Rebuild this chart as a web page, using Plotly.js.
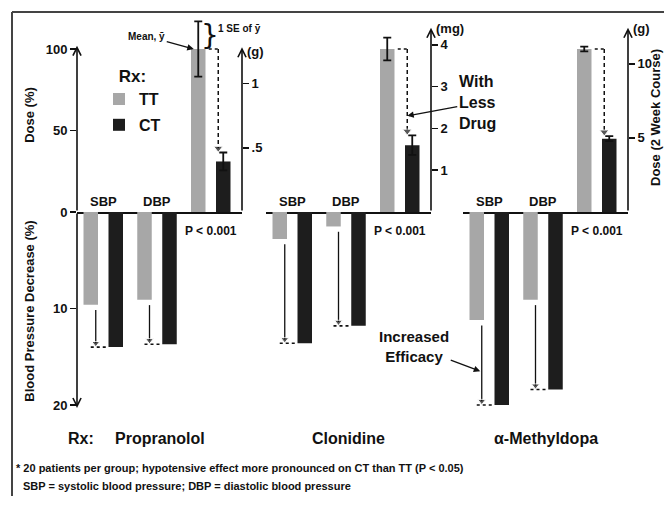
<!DOCTYPE html>
<html>
<head>
<meta charset="utf-8">
<script src="https://cdn.plot.ly/plotly-3.0.1.min.js"></script>
<style>html,body{margin:0;padding:0;background:#fff;}#chart{width:664px;height:506px;}</style>
</head>
<body>
<div id="chart"></div>
<script>
// ---------------- data ----------------
const drugs = ["Propranolol", "Clonidine", "α-Methyldopa"];
const measures = ["SBP", "DBP"];
const series = ["TT", "CT"];
// dose, percent of TT dose
const doseTT = [100, 100, 100];
const doseCT = [31, 41, 45];
const doseTTse = [17, 7, 1.5];
const doseCTse = [5.5, 6, 1.5];
// blood pressure decrease (%)
const sbpTT = [9.6, 2.8, 11.2];
const sbpCT = [14.0, 13.6, 20.0];
const dbpTT = [9.1, 1.5, 9.1];
const dbpCT = [13.7, 11.8, 18.4];
// TT dose in native units (2 week course)
const ttDoseAmount = [1.27, 3.9, 11.0];
const doseUnits = ["(g)", "(mg)", "(g)"];
const unitTicks = [[0.5, 1], [1, 2, 3, 4], [5, 10]];
const unitTickText = [[".5", "1"], ["1", "2", "3", "4"], ["5", "10"]];
const doseTicks = [0, 50, 100];
const bpTicks = [10, 20];
const pText = "P < 0.001";

// ---------------- layout constants ----------------
const L = 77, R = 628, T = 18, B = 410;
const zeroPx = 212, pxPerDose = 1.63, pxPerBP = 9.65;
const doseMax = (zeroPx - T) / pxPerDose;
const bpMax = (B - zeroPx) / pxPerBP;
const zeroFrac = (B - zeroPx) / (B - T);
const panelStart = [77, 266, 463], panelW = 165, xMax = 6.6;
const axisTop = [101, 113, 113];
const barW = 0.58;
const ttColor = "#a7a7a7", ctColor = "#1d1d1d", ink = "#111";
const FONT = '"Liberation Sans", Arial, Helvetica, sans-serif';
const px2x = px => (px - L) / (R - L);
const px2y = py => (B - py) / (B - T);
const slot = (g, s) => 0.55 + g * 2.15 + s;
const yName = n => n === 1 ? "y" : "y" + n;
const yKey = n => n === 1 ? "yaxis" : "yaxis" + n;
const xName = p => p === 0 ? "x" : "x" + (p + 1);
const xKey = p => p === 0 ? "xaxis" : "xaxis" + (p + 1);

const traces = [];
const annotations = [];
const layout = {
  width: 664, height: 506,
  margin: {l: L, r: 664 - R, t: T, b: 506 - B, pad: 0},
  paper_bgcolor: "#fff", plot_bgcolor: "rgba(0,0,0,0)",
  font: {family: FONT, size: 13, color: ink, weight: "bold"},
  barmode: "overlay",
  showlegend: true,
  legend: {
    x: px2x(99), y: px2y(60), xanchor: "left", yanchor: "top",
    bgcolor: "rgba(0,0,0,0)", font: {size: 16, family: FONT, weight: "bold"},
    title: {text: "Rx:", font: {size: 17, family: FONT, weight: "bold"}, side: "top center"},
    tracegroupgap: 2, itemwidth: 30
  },
  annotations: annotations,
  shapes: [
    {type: "line", xref: "paper", yref: "paper", x0: px2x(12), x1: px2x(700), y0: px2y(12), y1: px2y(12), line: {color: "#444", width: 2}},
    {type: "line", xref: "paper", yref: "paper", x0: px2x(12), x1: px2x(12), y0: px2y(12), y1: px2y(496), line: {color: "#444", width: 2}}
  ]
};

const bpVals = [[sbpTT, sbpCT], [dbpTT, dbpCT]];

for (let p = 0; p < 3; p++) {
  const xa = xName(p);
  const ydN = 2 * p + 1, ybN = 2 * p + 2, yuN = 7 + p;
  const yd = yName(ydN), yb = yName(ybN), yu = yName(yuN);
  const d0 = px2x(panelStart[p]), d1 = px2x(panelStart[p] + panelW);

  layout[xKey(p)] = {
    domain: [Math.max(0, d0), Math.min(1, d1)], range: [0, xMax], anchor: yd,
    showline: true, linecolor: ink, linewidth: 1.6, showgrid: false, zeroline: false,
    ticks: "", showticklabels: false, fixedrange: true
  };
  // dose (%) axis
  layout[yKey(ydN)] = {
    domain: [zeroFrac, 1], range: [0, doseMax], anchor: xa,
    showgrid: false, zeroline: false, showline: false,
    ticks: p === 0 ? "outside" : "", ticklen: 6, tickwidth: 1.5, tickcolor: ink,
    tickvals: doseTicks, showticklabels: p === 0,
    tickfont: {size: 13},
    title: p === 0 ? {text: "Dose (%)", font: {size: 13}, standoff: 8} : {text: ""}
  };
  // blood pressure decrease axis (downwards)
  layout[yKey(ybN)] = {
    domain: [0, zeroFrac], range: [bpMax, 0], anchor: xa,
    showgrid: false, zeroline: false, showline: false,
    ticks: p === 0 ? "outside" : "", ticklen: 6, tickwidth: 1.5, tickcolor: ink,
    tickvals: bpTicks, showticklabels: p === 0,
    tickfont: {size: 13},
    title: p === 0 ? {text: "Blood Pressure Decrease (%)", font: {size: 13}, standoff: 15} : {text: ""}
  };
  // native dose unit axis (right side)
  layout[yKey(yuN)] = {
    overlaying: yd, anchor: xa, side: "right",
    range: [0, doseMax * ttDoseAmount[p] / 100],
    showgrid: false, zeroline: false, showline: false,
    ticks: "outside", ticklen: 6, tickwidth: 1.5, tickcolor: ink,
    tickvals: unitTicks[p], ticktext: unitTickText[p], tickfont: {size: 13}
  };

  // dose bars
  traces.push({
    type: "bar", name: series[0], legendgroup: series[0], showlegend: p === 0,
    x: [slot(2, 0)], y: [doseTT[p]], width: barW, marker: {color: ttColor},
    error_y: {type: "data", array: [doseTTse[p]], visible: true, color: ink, thickness: 1.8, width: 4},
    xaxis: xa, yaxis: yd, hoverinfo: "y"
  });
  traces.push({
    type: "bar", name: series[1], legendgroup: series[1], showlegend: p === 0,
    x: [slot(2, 1)], y: [doseCT[p]], width: barW, marker: {color: ctColor},
    error_y: {type: "data", array: [doseCTse[p]], visible: true, color: ink, thickness: 1.8, width: 4},
    xaxis: xa, yaxis: yd, hoverinfo: "y"
  });
  // BP bars
  for (let s = 0; s < 2; s++) {
    traces.push({
      type: "bar", name: series[s], legendgroup: series[s], showlegend: false,
      x: [slot(0, s), slot(1, s)], y: [bpVals[0][s][p], bpVals[1][s][p]], width: barW,
      marker: {color: s === 0 ? ttColor : ctColor},
      xaxis: xa, yaxis: yb, hoverinfo: "y"
    });
  }
  // dose: dotted TT level (in native units) and dashed arrow down to CT
  const ax = slot(2, 1) - 0.2;
  traces.push({
    type: "scatter", mode: "lines", x: [ax - 0.38, ax], y: [ttDoseAmount[p], ttDoseAmount[p]],
    line: {color: ink, width: 1.6, dash: "dot"}, xaxis: xa, yaxis: yu, showlegend: false, hoverinfo: "skip"
  });
  traces.push({
    type: "scatter", mode: "lines+markers", x: [ax, ax], y: [doseTT[p], doseCT[p] + doseCTse[p] + 2.6],
    line: {color: ink, width: 1.5, dash: "4px,3px"},
    marker: {symbol: "triangle-down", size: [0, 8], color: ink},
    xaxis: xa, yaxis: yd, showlegend: false, hoverinfo: "skip"
  });
  // BP: arrows from TT to CT level + dotted CT level
  for (let g = 0; g < 2; g++) {
    const bx = slot(g, 0) + 0.2;
    const tt = bpVals[g][0][p], ct = bpVals[g][1][p];
    traces.push({
      type: "scatter", mode: "lines+markers", x: [bx, bx], y: [tt + 0.55, ct - 0.4],
      line: {color: ink, width: 1.3}, marker: {symbol: "triangle-down", size: [0, 7], color: ink},
      xaxis: xa, yaxis: yb, showlegend: false, hoverinfo: "skip"
    });
    traces.push({
      type: "scatter", mode: "lines", x: [bx - 0.2, bx + 0.42], y: [ct, ct],
      line: {color: ink, width: 1.6, dash: "dot"}, xaxis: xa, yaxis: yb, showlegend: false, hoverinfo: "skip"
    });
    // SBP / DBP label
    annotations.push({
      text: measures[g], x: (slot(g, 0) + slot(g, 1)) / 2, y: 0, xref: xa, yref: yd,
      xanchor: "center", yanchor: "bottom", yshift: 1, showarrow: false, font: {size: 13}
    });
  }
  // P < 0.001
  annotations.push({
    text: pText, x: (slot(2, 0) + slot(2, 1)) / 2, y: 2.0, xref: xa, yref: yb,
    xanchor: "center", yanchor: "middle", showarrow: false, font: {size: 12}
  });
  // right axis arrow + unit
  annotations.push({
    text: "", x: xMax, y: axisTop[p], xref: xa, yref: yd, ax: xMax, ay: 0, axref: xa, ayref: yd,
    showarrow: true, arrowhead: 5, arrowsize: 1, arrowwidth: 1.6, arrowcolor: ink, standoff: 0, startstandoff: 0
  });
  annotations.push({
    text: doseUnits[p], x: xMax, y: axisTop[p] - (p === 0 ? 2.5 : 0.5), xref: xa, yref: yd,
    xanchor: "left", yanchor: "middle", xshift: 3, showarrow: false, font: {size: 13}
  });
  // drug name
  annotations.push({
    text: drugs[p], x: 0.5, y: px2y(438), xref: xa + " domain", yref: "paper",
    xanchor: "center", yanchor: "middle", showarrow: false, font: {size: 16}
  });
}

// right-hand title
annotations.push({
  text: "Dose (2 Week Course)", x: px2x(656), y: px2y(118), xref: "paper", yref: "paper",
  xanchor: "center", yanchor: "middle", textangle: -90, showarrow: false, font: {size: 13}
});
// left axis arrows
annotations.push({
  text: "", x: 0, y: 102, xref: "x", yref: "y", ax: 0, ay: 0, axref: "x", ayref: "y",
  showarrow: true, arrowhead: 5, arrowsize: 1, arrowwidth: 1.6, arrowcolor: ink, standoff: 0
});
annotations.push({
  text: "", x: 0, y: 20.3, xref: "x", yref: "y2", ax: 0, ay: 0, axref: "x", ayref: "y2",
  showarrow: true, arrowhead: 5, arrowsize: 1, arrowwidth: 1.6, arrowcolor: ink, standoff: 0
});
// Rx: label at bottom
annotations.push({
  text: "Rx:", x: px2x(81), y: px2y(438), xref: "paper", yref: "paper",
  xanchor: "center", yanchor: "middle", showarrow: false, font: {size: 16}
});
// Mean, y-bar
annotations.push({
  text: "Mean, ȳ", x: slot(2, 0) - 0.18, y: doseTT[0], xref: "x", yref: "y",
  ax: -47, ay: -13, showarrow: true, arrowhead: 2, arrowsize: 1, arrowwidth: 1.3, arrowcolor: ink,
  font: {size: 10}
});
// 1 SE brace
annotations.push({
  text: "}", x: slot(2, 0), y: doseTT[0] + doseTTse[0] / 2, xref: "x", yref: "y",
  xanchor: "left", yanchor: "middle", xshift: 1, showarrow: false,
  font: {size: 28, family: '"DejaVu Sans", sans-serif', weight: "normal"}
});
annotations.push({
  text: "1 SE of ȳ", x: slot(2, 0), y: doseTT[0] + doseTTse[0], xref: "x", yref: "y",
  xanchor: "left", yanchor: "top", xshift: 18, yshift: 0, showarrow: false, font: {size: 10}
});
// With Less Drug
annotations.push({
  text: "With<br>Less<br>Drug", x: slot(2, 1) - 0.2, y: 59, xref: "x2", yref: "y3",
  ax: 70, ay: -13, showarrow: true, arrowhead: 2, arrowsize: 1, arrowwidth: 1.3, arrowcolor: ink,
  align: "left", font: {size: 16}
});
// Increased Efficacy
annotations.push({
  text: "Increased<br>Efficacy", x: slot(0, 0) + 0.14, y: 16.5, xref: "x3", yref: "y6",
  ax: -66, ay: -25, showarrow: true, arrowhead: 2, arrowsize: 1, arrowwidth: 1.3, arrowcolor: ink,
  align: "center", font: {size: 15}
});
// footnotes
annotations.push({
  text: "* 20 patients per group; hypotensive effect more pronounced on CT than TT (P < 0.05)",
  x: px2x(14), y: px2y(468), xref: "paper", yref: "paper", xanchor: "left", yanchor: "middle",
  showarrow: false, font: {size: 11}
});
annotations.push({
  text: "SBP = systolic blood pressure; DBP = diastolic blood pressure",
  x: px2x(21), y: px2y(486), xref: "paper", yref: "paper", xanchor: "left", yanchor: "middle",
  showarrow: false, font: {size: 11}
});

Plotly.newPlot("chart", traces, layout, {staticPlot: true, displayModeBar: false});
</script>
</body>
</html>
